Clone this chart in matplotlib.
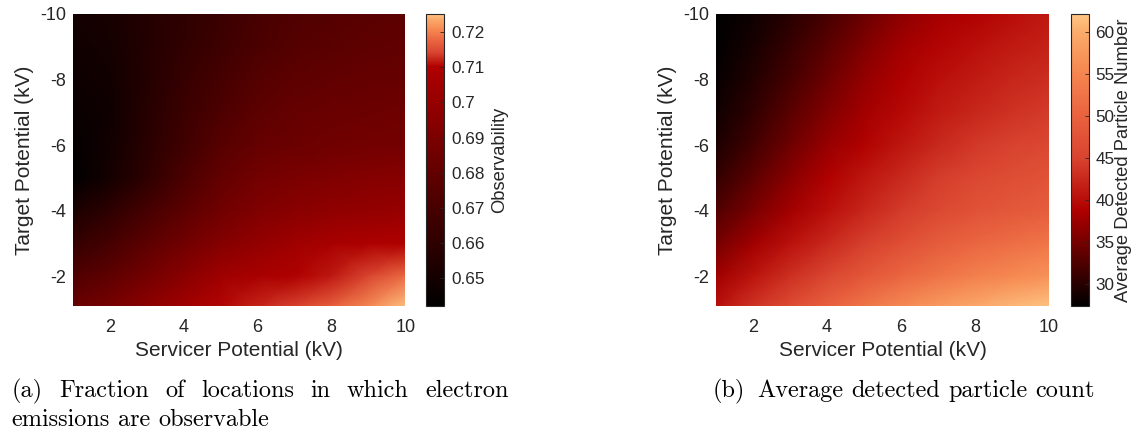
import numpy as np
import matplotlib
matplotlib.use("Agg")
import matplotlib.pyplot as plt
from matplotlib.colors import LinearSegmentedColormap
from matplotlib.transforms import IdentityTransform

plt.rcParams["axes.unicode_minus"] = False
plt.rcParams["font.family"] = ["Liberation Sans", "DejaVu Sans"]

# Grid of potentials (kV)
servicer_kv = [1, 2, 3, 4, 5, 6, 7, 8, 9, 10]
target_kv = [-10, -9, -8, -7, -6, -5, -4, -3, -2, -1]

# Fraction of locations with observable emissions (rows: target, cols: servicer)
observability = [
    [0.6497, 0.6510, 0.6560, 0.6605, 0.6650, 0.6700, 0.6730, 0.6750, 0.6770, 0.6780],
    [0.6485, 0.6500, 0.6560, 0.6610, 0.6660, 0.6710, 0.6750, 0.6770, 0.6790, 0.6800],
    [0.6474, 0.6490, 0.6560, 0.6636, 0.6690, 0.6750, 0.6780, 0.6800, 0.6810, 0.6815],
    [0.6460, 0.6480, 0.6570, 0.6650, 0.6720, 0.6780, 0.6810, 0.6830, 0.6840, 0.6850],
    [0.6440, 0.6490, 0.6580, 0.6670, 0.6755, 0.6815, 0.6835, 0.6855, 0.6865, 0.6870],
    [0.6425, 0.6500, 0.6600, 0.6710, 0.6805, 0.6865, 0.6895, 0.6915, 0.6935, 0.6945],
    [0.6525, 0.6600, 0.6690, 0.6775, 0.6860, 0.6915, 0.6950, 0.6976, 0.6990, 0.7007],
    [0.6620, 0.6690, 0.6780, 0.6860, 0.6930, 0.6990, 0.7040, 0.7070, 0.7090, 0.7102],
    [0.6730, 0.6790, 0.6870, 0.6950, 0.7040, 0.7075, 0.7096, 0.7117, 0.7144, 0.7181],
    [0.6840, 0.6890, 0.6970, 0.7050, 0.7105, 0.7125, 0.7145, 0.7176, 0.7212, 0.7260],
]

# Average detected particle number
particle_count = [
    [27.4, 28.4, 30.0, 32.0, 34.3, 36.6, 38.2, 39.0, 40.0, 41.0],
    [27.6, 29.0, 31.0, 33.3, 35.7, 37.9, 39.2, 40.2, 41.2, 42.0],
    [27.9, 29.7, 32.0, 34.5, 37.0, 38.8, 40.2, 41.3, 42.3, 43.1],
    [28.4, 30.6, 33.2, 35.8, 38.0, 39.6, 41.2, 42.4, 43.4, 44.3],
    [29.3, 31.8, 34.6, 37.2, 39.0, 40.8, 42.6, 44.0, 45.0, 45.8],
    [30.7, 33.4, 36.3, 38.8, 40.8, 42.6, 44.4, 45.8, 46.8, 47.6],
    [32.6, 35.3, 38.0, 40.2, 42.3, 44.3, 46.0, 47.4, 48.4, 49.2],
    [35.0, 37.8, 40.4, 42.6, 44.8, 47.0, 49.0, 50.6, 51.8, 52.8],
    [37.8, 40.6, 43.2, 45.6, 48.2, 50.6, 52.6, 54.3, 55.6, 56.8],
    [40.4, 43.8, 47.0, 50.0, 53.0, 55.9, 58.2, 60.0, 61.3, 62.4],
]

x_ticks = [2, 4, 6, 8, 10]
y_ticks = [-10, -8, -6, -4, -2]
obs_ticks = [0.65, 0.66, 0.67, 0.68, 0.69, 0.70, 0.71, 0.72]
obs_ticklabels = ["0.65", "0.66", "0.67", "0.68", "0.69", "0.7", "0.71", "0.72"]
pc_ticks = [30, 35, 40, 45, 50, 55, 60]

obs_lim = (0.6420, 0.7252)
pc_lim = (27.4, 62.2)

TXT = "#262626"


def heat_cmap(red_frac, name):
    """Black -> deep red -> orange -> peach, with the red knee at red_frac."""
    up = 1.0 - red_frac
    nodes = [
        (0.0, "#000000"),
        (red_frac, "#B00000"),
        (red_frac + up * 0.265, "#D8432F"),
        (red_frac + up * 0.48, "#E9623F"),
        (red_frac + up * 0.69, "#F5844F"),
        (red_frac + up * 0.906, "#FBAA6A"),
        (1.0, "#FFC684"),
    ]
    return LinearSegmentedColormap.from_list(name, nodes, N=512)


obs_cmap = heat_cmap((0.7102 - obs_lim[0]) / (obs_lim[1] - obs_lim[0]), "obs")
pc_cmap = heat_cmap((38.8 - pc_lim[0]) / (pc_lim[1] - pc_lim[0]), "pc")

W, H = 1140, 429
fig = plt.figure(figsize=(W / 100, H / 100), dpi=100)


def px_rect(x0, x1, top, bottom):
    return [x0 / W, (H - bottom) / H, (x1 - x0) / W, (bottom - top) / H]


panels = [
    dict(z=observability, cmap=obs_cmap, lim=obs_lim, ax=(72.7, 405.3), cax=(426, 444),
         cticks=obs_ticks, clabels=obs_ticklabels, clabel="Observability", clx=500),
    dict(z=particle_count, cmap=pc_cmap, lim=pc_lim, ax=(716, 1049), cax=(1070.5, 1088.5),
         cticks=pc_ticks, clabels=[str(t) for t in pc_ticks],
         clabel="Average Detected Particle Number", clx=1123),
]

X, Y = np.meshgrid(servicer_kv, target_kv)
for p in panels:
    ax = fig.add_axes(px_rect(p["ax"][0], p["ax"][1], 14, 306))
    mesh = ax.pcolormesh(X, Y, np.array(p["z"]), shading="gouraud", cmap=p["cmap"],
                         vmin=p["lim"][0], vmax=p["lim"][1], rasterized=True)
    ax.set_xlim(1, 10)
    ax.set_ylim(-1.1, -10)
    ax.set_xticks(x_ticks)
    ax.set_yticks(y_ticks)
    ax.set_xticklabels([str(t) for t in x_ticks])
    ax.set_yticklabels([str(t) for t in y_ticks])
    ax.tick_params(length=0, labelsize=13, labelcolor=TXT)
    ax.tick_params(axis="x", pad=9)
    ax.tick_params(axis="y", pad=5)
    for s in ax.spines.values():
        s.set_visible(False)
    ax.set_xlabel("Servicer Potential (kV)", fontsize=15, color=TXT, va="center")
    ax.xaxis.set_label_coords(0.5, -0.151)
    ax.set_ylabel("Target Potential (kV)", fontsize=15, color=TXT, va="center")
    ax.yaxis.set_label_coords(-0.146, 0.5)

    cax = fig.add_axes(px_rect(p["cax"][0], p["cax"][1], 14, 306))
    cb = fig.colorbar(mesh, cax=cax)
    cb.set_ticks(p["cticks"])
    cb.set_ticklabels(p["clabels"])
    cb.outline.set_edgecolor(TXT)
    cb.outline.set_linewidth(0.8)
    cax.tick_params(direction="in", length=3, width=0.6, color=TXT,
                    labelsize=12.3, labelcolor=TXT, pad=5)
    fig.text(p["clx"], H - 160, p["clabel"], fontsize=13.2, color=TXT, rotation=90,
             ha="center", va="center", transform=IdentityTransform())

# Sub-figure captions
renderer = fig.canvas.get_renderer()
cap_kw = dict(family="cmr10", fontsize=17.5, color="black", transform=IdentityTransform(),
              va="baseline", ha="left")


def word_widths(words):
    texts = [fig.text(0, 0, w, **cap_kw) for w in words]
    widths = [t.get_window_extent(renderer).width for t in texts]
    return texts, widths


def justified(words, x0, x1, y_base):
    texts, widths = word_widths(words)
    gap = (x1 - x0 - sum(widths)) / (len(words) - 1)
    x = x0
    for t, w in zip(texts, widths):
        t.set_position((x, H - y_base))
        x += w + gap


def plain(words, x0, y_base, gap_after_first=None):
    texts, widths = word_widths(words)
    probe_a = fig.text(0, 0, "a", **cap_kw)
    probe_aa = fig.text(0, 0, "a a", **cap_kw)
    space = probe_aa.get_window_extent(renderer).width - 2 * probe_a.get_window_extent(renderer).width
    probe_a.remove()
    probe_aa.remove()
    x = x0
    for i, (t, w) in enumerate(zip(texts, widths)):
        t.set_position((x, H - y_base))
        g = gap_after_first if (i == 0 and gap_after_first is not None) else space
        x += w + g


justified(["(a)", "Fraction", "of", "locations", "in", "which", "electron"], 11.5, 508.5, 397)
plain(["emissions", "are", "observable"], 11.5, 426)
plain(["(b)", "Average", "detected", "particle", "count"], 712.5, 397, gap_after_first=12)

fig.savefig("out.png", dpi=100)
